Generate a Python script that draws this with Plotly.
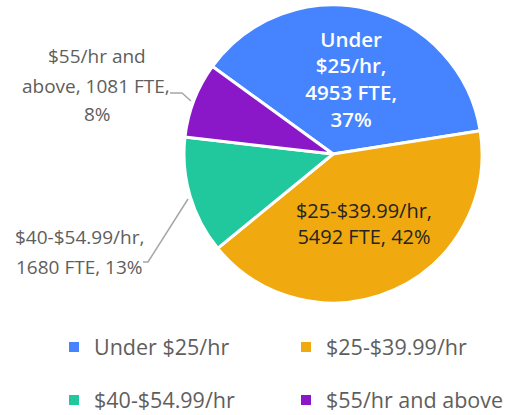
import plotly.graph_objects as go

# ---- data ----
categories = ["Under $25/hr", "$25-$39.99/hr", "$40-$54.99/hr", "$55/hr and above"]
fte = [4953, 5492, 1680, 1081]
pct = [37, 42, 13, 8]
colors = ["#4584FE", "#F0A90F", "#21C89D", "#8A17C8"]

W, H = 513, 415
FONT = "Open Sans"
GRAY = "#605E5C"

def px(x, y):
    return x / W, 1 - y / H

# inside-slice text (wrapped like the reference)
inside_text = [
    "Under<br>$25/hr,<br>%d FTE,<br>%d%%" % (fte[0], pct[0]),
    "%s,<br>%d FTE, %d%%" % (categories[1], fte[1], pct[1]),
    "", "",
]

fig = go.Figure()
fig.add_trace(go.Pie(
    labels=categories, values=fte, sort=False, direction="clockwise",
    rotation=-54,
    marker=dict(colors=colors, line=dict(color="white", width=3)),
    text=inside_text, textinfo="text",
    textposition=["inside", "inside", "none", "none"],
    insidetextorientation="horizontal",
    insidetextfont=dict(family=FONT, size=[20.5, 20, 19, 19],
                        color=["white", "#252423", "white", "white"],
                        weight=[600, 400, 400, 400]),
    domain=dict(x=[184 / W, 482 / W], y=[1 - 303 / H, 1 - 5 / H]),
    showlegend=False, hoverinfo="label+value",
))

# legend entries: one small legend per grid cell (2 x 2)
legend_pos = [(54, 347), (286, 347), (54, 400), (286, 400)]
legend_names = ["legend", "legend2", "legend3", "legend4"]
for c, col, ln in zip(categories, colors, legend_names):
    fig.add_trace(go.Scatter(
        x=[None], y=[None], mode="markers", name=c,
        marker=dict(symbol="square", size=10, color=col),
        legend=ln, showlegend=True,
    ))

leg_common = dict(orientation="h", xanchor="left", yanchor="middle",
                  font=dict(family=FONT, size=21.5, color=GRAY),
                  bgcolor="rgba(0,0,0,0)")
fig.update_layout(**{
    ln: dict(x=px(*p)[0], y=px(*p)[1], **leg_common)
    for ln, p in zip(legend_names, legend_pos)
})

# outside labels, one annotation per text line
outside_lines = [
    ("$55/hr and", 97, 56.5),
    ("above, %d FTE," % fte[3], 96, 85.5),
    ("%d%%" % pct[3], 97, 113.5),
    ("%s," % categories[2], 79, 237),
    ("%d FTE, %d%%" % (fte[2], pct[2]), 79, 266.5),
]
for txt, x, y in outside_lines:
    ax, ay = px(x, y)
    fig.add_annotation(x=ax, y=ay, xref="paper", yref="paper", showarrow=False,
                       xanchor="center", yanchor="middle", text=txt,
                       font=dict(family=FONT, size=19, color=GRAY))

def leader(points):
    path = ""
    for k, (x, y) in enumerate(points):
        X, Y = px(x, y)
        path += ("M" if k == 0 else "L") + " %.5f %.5f " % (X, Y)
    fig.add_shape(type="path", path=path, xref="paper", yref="paper",
                  line=dict(color="#A6A6A6", width=1.5))

leader([(170, 93), (182, 93), (191, 101)])
leader([(143, 262), (148, 262), (188, 199)])

fig.update_layout(
    width=W, height=H, margin=dict(l=0, r=0, t=0, b=0, autoexpand=False),
    paper_bgcolor="white", plot_bgcolor="white",
    xaxis=dict(visible=False), yaxis=dict(visible=False),
)
fig.write_html("out.html", config={"displayModeBar": False},
               post_script="document.body.style.margin='0';document.body.style.padding='0';")
